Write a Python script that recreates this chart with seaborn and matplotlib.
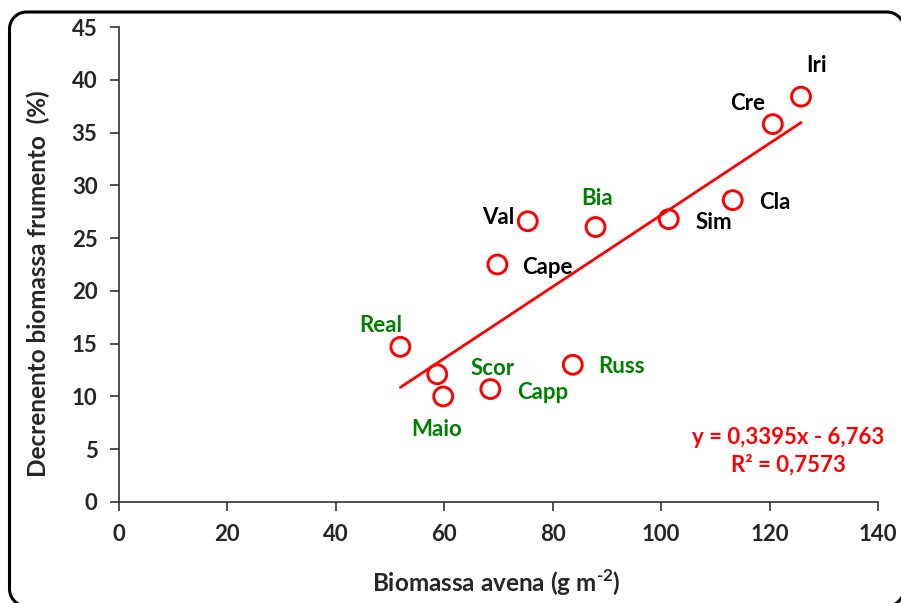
import numpy as np
import pandas as pd
import seaborn as sns
import matplotlib
matplotlib.use("Agg")
import matplotlib.pyplot as plt
from matplotlib.patches import Polygon
from matplotlib.transforms import IdentityTransform

names = ["Iri", "Cre", "Cla", "Sim", "Bia", "Val", "Cape", "Real", "Scor", "Maio", "Capp", "Russ"]
biomassa_avena = [125.8, 120.6, 113.2, 101.4, 87.9, 75.4, 69.8, 51.9, 58.7, 59.8, 68.5, 83.7]
decremento = [38.4, 35.8, 28.6, 26.8, 26.05, 26.6, 22.5, 14.7, 12.1, 10.0, 10.7, 13.0]
label_colors = ["black", "black", "black", "black", "green", "black", "black",
                "green", "green", "green", "green", "green"]
label_offsets = [(16, 31), (-25, 21), (42, -2), (45, -3), (2, 29), (-30, 4), (50, -3),
                 (-20, 21), (55, 6), (-7, -33), (52, -3), (49, -2)]
slope, intercept = 0.3395, -6.763
r2 = 0.7573
xticks = [0, 20, 40, 60, 80, 100, 120, 140]
yticks = [0, 5, 10, 15, 20, 25, 30, 35, 40, 45]

df = pd.DataFrame({"name": names, "x": biomassa_avena, "y": decremento})

sns.set_theme(style="white")
plt.rcParams["font.family"] = ["Lato", "DejaVu Sans"]
plt.rcParams["font.weight"] = "bold"
plt.rcParams["mathtext.fontset"] = "custom"
plt.rcParams["mathtext.rm"] = "Lato:bold"
plt.rcParams["mathtext.bf"] = "Lato:bold"

fig = plt.figure(figsize=(9.01, 6.03), dpi=100)
ax = fig.add_axes([119 / 901, 1 - 502 / 603, (878 - 119) / 901, (502 - 27) / 603])


def rounded_rect(x0, y0, x1, y1, r, n=16):
    pts = []
    corners = [((x1 - r, y1 - r), 0, 90), ((x0 + r, y1 - r), 90, 180),
               ((x0 + r, y0 + r), 180, 270), ((x1 - r, y0 + r), 270, 360)]
    for (cx, cy), a0, a1 in corners:
        t = np.radians(np.linspace(a0, a1, n))
        pts.extend(zip(cx + r * np.cos(t), cy + r * np.sin(t)))
    return np.array(pts)


# rounded border (display pixels, origin bottom-left)
border = Polygon(rounded_rect(9.5, -3.0, 904.0, 591.0, 17.0), closed=True,
                 transform=IdentityTransform(), fill=False,
                 edgecolor="black", linewidth=2.2, clip_on=False)
fig.patches.append(border)

sns.scatterplot(data=df, x="x", y="y", ax=ax, marker="o", s=185,
                facecolor="none", edgecolor="#ff0000", linewidth=2.1, zorder=3)

xl = np.array([min(biomassa_avena), max(biomassa_avena)])
sns.lineplot(x=xl, y=slope * xl + intercept, ax=ax, color="#ff0000", linewidth=2, zorder=2)

for n, xv, yv, c, off in zip(names, biomassa_avena, decremento, label_colors, label_offsets):
    ax.annotate(n, (xv, yv), xytext=off, textcoords="offset pixels",
                ha="center", va="center", color=c, fontsize=16, fontweight="bold")

ax.text(788 / 901, 1 - 437 / 603, "y = 0,3395x - 6,763", transform=fig.transFigure,
        ha="center", va="center", color="#ff0000", fontsize=16, fontweight="bold")
ax.text(788 / 901, 1 - 465 / 603, "R² = 0,7573", transform=fig.transFigure,
        ha="center", va="center", color="#ff0000", fontsize=16, fontweight="bold")

ax.set_xlim(0, 140)
ax.set_ylim(0, 45)
ax.set_xticks(xticks)
ax.set_yticks(yticks)
ax.set_xticklabels([str(t) for t in xticks], fontsize=16, fontweight="bold")
ax.set_yticklabels([str(t) for t in yticks], fontsize=16, fontweight="bold")
ax.tick_params(axis="both", direction="out", length=6.5, width=1.2, color="#333333",
               bottom=True, left=True, pad=9)
for sp in ["top", "right"]:
    ax.spines[sp].set_visible(False)
for sp in ["left", "bottom"]:
    ax.spines[sp].set_color("#333333")
    ax.spines[sp].set_linewidth(1.2)

ax.set_xlabel("Biomassa avena (g m$^{\\text{-2}}$)", fontsize=17.5, fontweight="bold")
ax.set_ylabel("Decrenento biomassa frumento  (%)", fontsize=17.5, fontweight="bold")
ax.xaxis.label.set_va("center")
ax.yaxis.label.set_va("center")
ax.xaxis.set_label_coords((496 - 119) / 759, (502 - 583) / 475)
ax.yaxis.set_label_coords((38 - 119) / 759, (502 - 284) / 475)

fig.savefig("out.png", dpi=100)
